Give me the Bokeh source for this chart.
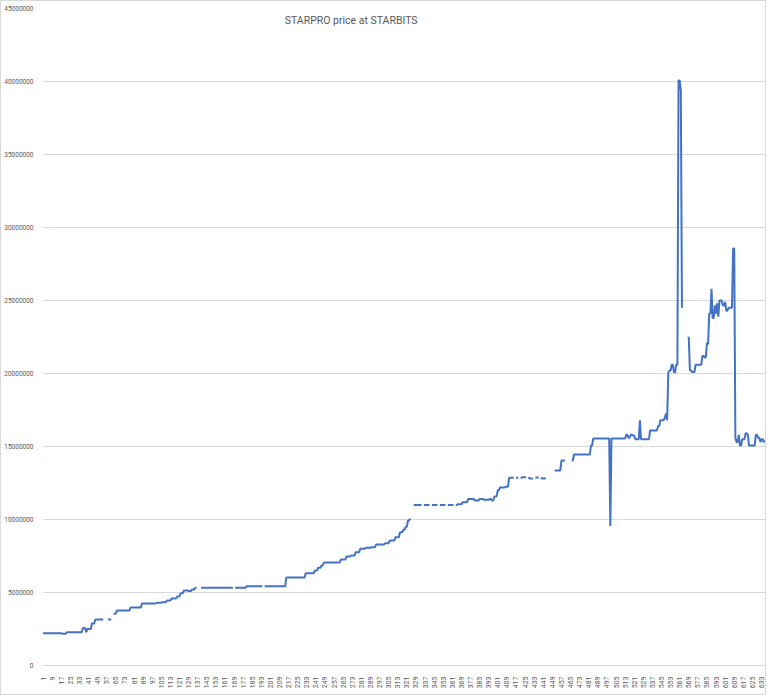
import numpy as np
from bokeh.plotting import figure
from bokeh.models import FixedTicker, Label, ColumnDataSource
from bokeh.embed import file_html
from bokeh.resources import INLINE

# ---------------- data ----------------
n_points = 636

# price holds its value from each start index until the next one (millions)
step_start = [1, 18, 22, 36, 39, 40, 44, 47, 58, 63, 66, 78, 88, 101, 106, 110,
              114, 119, 122, 125, 129, 132, 135, 180, 215, 232, 240, 243, 246,
              248, 263, 268, 272, 276, 280, 285, 290, 294, 302, 306, 311, 315,
              318, 320, 322, 324, 327, 366, 370, 375, 381, 385, 389, 394, 396,
              398, 401, 403, 408, 411, 423, 429, 434, 440, 443, 451, 457, 466,
              468, 483, 485, 500, 501, 514, 516, 518, 520, 522, 526, 527, 535,
              542, 544, 548, 549, 550, 551, 552, 554, 556, 557, 558, 560, 562,
              563, 568, 570, 572, 575, 581, 583, 585, 586, 587, 589, 590, 592,
              593, 594, 595, 596, 599, 601, 602, 604, 608, 610, 611, 613, 614,
              616, 619, 621, 622, 628, 630, 632, 633, 635, 636]
step_value_m = [2.21, 2.18, 2.28, 2.56, 2.28, 2.50, 2.88, 3.15, 3.15, 3.55, 3.77,
                3.97, 4.25, 4.30, 4.34, 4.45, 4.59, 4.73, 4.95, 5.14, 5.10, 5.20,
                5.32, 5.42, 6.03, 6.32, 6.50, 6.70, 6.85, 7.05, 7.26, 7.47, 7.54,
                7.76, 7.99, 8.06, 8.10, 8.29, 8.38, 8.56, 8.79, 9.13, 9.30, 9.50,
                9.93, 10.07, 11.00, 11.05, 11.19, 11.40, 11.30, 11.40, 11.35,
                11.40, 11.30, 11.58, 12.00, 12.20, 12.25, 12.86, 12.90, 12.80,
                12.88, 12.80, 12.85, 13.36, 14.04, 14.04, 14.45, 15.07, 15.55,
                9.55, 15.55, 15.80, 15.60, 15.80, 15.75, 15.50, 16.80, 15.50,
                16.10, 16.40, 16.80, 17.00, 17.26, 16.80, 20.07, 20.20, 20.60,
                20.07, 20.10, 20.60, 40.07, 39.40, 24.50, 22.47, 20.20, 20.10,
                20.60, 21.20, 21.10, 22.10, 22.00, 24.10, 25.80, 23.80, 24.66,
                24.10, 24.80, 23.90, 25.00, 24.66, 24.90, 24.30, 24.50, 28.56,
                15.60, 15.30, 15.80, 15.07, 15.50, 15.90, 15.80, 15.07, 15.80,
                15.60, 15.30, 15.50, 15.30, 15.40]

# days with no recorded price (gaps in the line)
gap_index = [55, 56, 57, 62, 137, 138, 139, 169, 195, 325, 326, 335, 342, 349,
             356, 363, 416, 420, 427, 433, 438, 444, 445, 446, 447, 448, 449,
             450, 461, 462, 463, 464, 465, 564, 565, 566, 567]

y_ticks = [0, 5000000, 10000000, 15000000, 20000000, 25000000, 30000000,
           35000000, 40000000, 45000000]
x_ticks = list(range(1, 634, 8))

title_text = "STARPRO price at STARBITS"

# ---------------- build series ----------------
day = np.arange(1, n_points + 1)
price = np.full(n_points, np.nan)
for k, s in enumerate(step_start):
    e = step_start[k + 1] if k + 1 < len(step_start) else n_points + 1
    price[s - 1:e - 1] = step_value_m[k] * 1e6
for g in gap_index:
    price[g - 1] = np.nan

src = ColumnDataSource(dict(day=day, price=price))

# ---------------- figure ----------------
p = figure(width=766, height=695, x_range=(0.5, n_points + 0.5),
           y_range=(0, 45000000), output_backend="svg", toolbar_location=None,
           min_border_left=33, min_border_right=2, min_border_top=7,
           min_border_bottom=31)
p.outline_line_color = None
p.background_fill_color = "white"
p.border_fill_color = "white"
p.styles = {"border": "1px solid #d9d9d9"}

p.line("day", "price", source=src, line_color="#4472C4", line_width=2.0)

grey_txt = "#595959"
p.yaxis.ticker = FixedTicker(ticks=y_ticks)
p.yaxis.major_label_overrides = {t: str(t) for t in y_ticks}
p.yaxis.axis_line_color = None
p.yaxis.major_tick_line_color = None
p.yaxis.minor_tick_line_color = None
p.yaxis.major_label_text_font = "Roboto"
p.yaxis.major_label_text_font_size = "6.5px"
p.yaxis.major_label_text_color = grey_txt
p.yaxis.major_label_standoff = 3

p.xaxis.ticker = FixedTicker(ticks=x_ticks)
p.xaxis.major_label_overrides = {t: str(t) for t in x_ticks}
p.xaxis.major_label_orientation = np.pi / 2
p.xaxis.axis_line_color = "#d9d9d9"
p.xaxis.major_tick_line_color = None
p.xaxis.minor_tick_line_color = None
p.xaxis.major_label_text_font = "Roboto"
p.xaxis.major_label_text_font_size = "7px"
p.xaxis.major_label_text_color = grey_txt
p.xaxis.major_label_standoff = 5

p.xgrid.grid_line_color = None
p.ygrid.ticker = FixedTicker(ticks=y_ticks)
p.ygrid.grid_line_color = "#d9d9d9"
p.ygrid.grid_line_width = 1

p.add_layout(Label(x=272, y=44200000, text=title_text, text_align="center",
                   text_baseline="middle", text_font="Roboto",
                   text_font_size="10.5px", text_color=grey_txt))

open("out.html", "w").write(file_html(p, INLINE))
